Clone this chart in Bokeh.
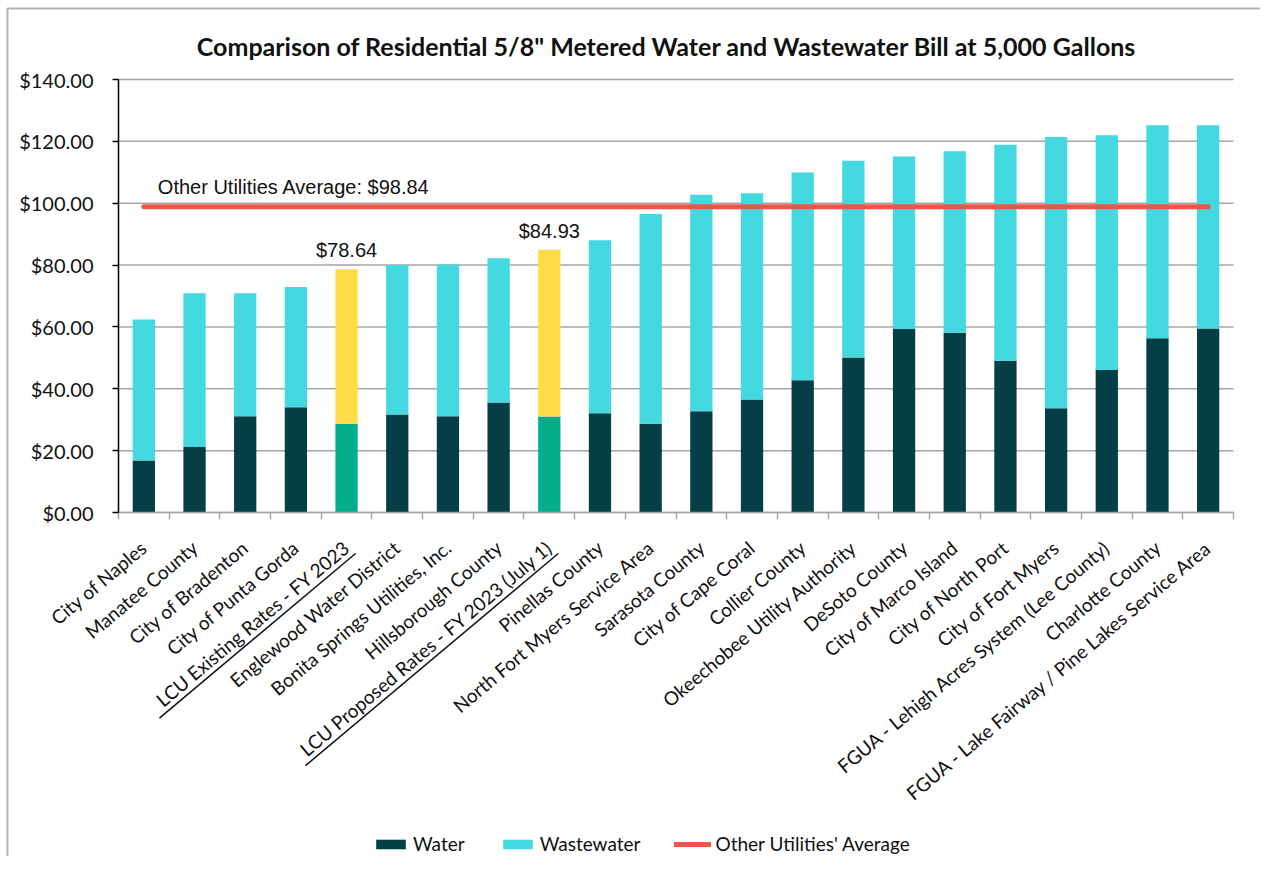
import math
from bokeh.plotting import figure
from bokeh.models import (ColumnDataSource, Range1d, FixedTicker, NumeralTickFormatter,
                          Legend, LegendItem, CDSView, BooleanFilter, BoxAnnotation, LinearAxis)
from bokeh.core.properties import value
from bokeh.embed import file_html
from bokeh.resources import INLINE

# ---- data ----
categories = [
    "City of Naples", "Manatee County", "City of Bradenton", "City of Punta Gorda",
    "LCU Existing Rates - FY 2023", "Englewood Water District", "Bonita Springs Utilities, Inc.",
    "Hillsborough County", "LCU Proposed Rates - FY 2023 (July 1)", "Pinellas County",
    "North Fort Myers Service Area", "Sarasota County", "City of Cape Coral", "Collier County",
    "Okeechobee Utility Authority", "DeSoto County", "City of Marco Island", "City of North Port",
    "City of Fort Myers", "FGUA - Lehigh Acres System (Lee County)", "Charlotte County",
    "FGUA - Lake Fairway / Pine Lakes Service Area",
]
water = [16.8, 21.2, 31.1, 34.0, 28.70, 31.7, 31.1, 35.6, 31.00, 32.1, 28.7,
         32.7, 36.5, 42.8, 50.1, 59.3, 58.1, 49.1, 33.7, 46.1, 56.3, 59.5]
wastewater = [45.6, 49.7, 39.8, 38.9, 49.94, 48.3, 49.1, 46.6, 53.93, 55.9, 67.8,
              70.0, 66.7, 67.1, 63.6, 55.8, 58.7, 69.8, 87.7, 75.9, 68.9, 65.7]
highlighted = ["LCU Existing Rates - FY 2023", "LCU Proposed Rates - FY 2023 (July 1)"]
other_average = 98.84
y_ticks = [0, 20, 40, 60, 80, 100, 120, 140]
title = "Comparison of Residential 5/8\" Metered Water and Wastewater Bill at 5,000 Gallons"

# ---- styles ----
C_WATER = "#033F45"
C_WW = "#44D8E1"
C_LCU_WATER = "#05AE8B"
C_LCU_WW = "#FFDC46"
C_AVG = "#EE5448"
C_GRID = "#A6A6A6"
C_TEXT = "#111111"
FONT = "Lato"
FONT2 = "Liberation Sans"
W, H = 1260, 856
ML, MR, MT, MB = 118, 27, 79, 344          # pixel margins around the bar area
LABEL_ANGLE = math.radians(40)
LABEL_STANDOFF = 25
UNDERLINE_LEN = {"LCU Existing Rates - FY 2023": 256, "LCU Proposed Rates - FY 2023 (July 1)": 330}
UNDERLINE_END = (9, 41)                     # px right of the tick / below the axis

n = len(categories)
xs = list(range(1, n + 1))
totals = [w + ww for w, ww in zip(water, wastewater)]
is_hl = [c in highlighted for c in categories]

px_per_cat = (W - ML - MR) / n
px_per_unit = (H - MT - MB) / (y_ticks[-1] - y_ticks[0])
x_lo, x_hi = 0.5, n + 0.5
x_range = Range1d(x_lo - ML / px_per_cat, x_hi + MR / px_per_cat)
y_range = Range1d(y_ticks[0] - MB / px_per_unit, y_ticks[-1] + MT / px_per_unit)

src = ColumnDataSource(dict(
    x=xs, water=water, total=totals,
    lbl=[f"${t:.2f}" for t in totals],
))
v_norm = CDSView(filter=BooleanFilter([not h for h in is_hl]))
v_hl = CDSView(filter=BooleanFilter(is_hl))

p = figure(width=W, height=H, output_backend="svg", toolbar_location=None, title=None,
           x_range=x_range, y_range=y_range, x_axis_location=None, y_axis_location=None,
           min_border=0)
p.min_border_left = p.min_border_right = p.min_border_top = p.min_border_bottom = 0
p.outline_line_color = None
p.background_fill_color = "white"
p.grid.visible = False

# outer chart border
p.add_layout(BoxAnnotation(left=7, right=W + 10, top=8, bottom=H + 10,
                           left_units="canvas", right_units="canvas",
                           top_units="canvas", bottom_units="canvas",
                           fill_alpha=0, line_color="#000000", line_width=2,
                           editable=False))

# horizontal gridlines (only across the bar area)
p.segment(x0=[x_lo] * len(y_ticks), x1=[x_hi] * len(y_ticks), y0=y_ticks, y1=y_ticks,
          line_color=C_GRID, line_width=1.5)

bw = 0.44
r_w = p.vbar(x="x", bottom=0, top="water", width=bw, fill_color=C_WATER, line_color=None,
             source=src, view=v_norm)
r_ww = p.vbar(x="x", bottom="water", top="total", width=bw, fill_color=C_WW, line_color=None,
              source=src, view=v_norm)
p.vbar(x="x", bottom=0, top="water", width=bw, fill_color=C_LCU_WATER, line_color=None,
       source=src, view=v_hl)
p.vbar(x="x", bottom="water", top="total", width=bw, fill_color=C_LCU_WW, line_color=None,
       source=src, view=v_hl)

r_avg = p.line(x=[xs[0], xs[-1]], y=[other_average, other_average], line_width=5,
               line_color=C_AVG, line_cap="round")

p.text(x=[xs[0]], y=[other_average], text=[f"Other Utilities Average: ${other_average:.2f}"],
       x_offset=14, y_offset=-9, text_baseline="bottom", text_align="left",
       text_font=value(FONT2), text_font_size="20px", text_color=C_TEXT)
p.text(x="x", y="total", text="lbl", source=src, view=v_hl, text_align="center",
       text_baseline="bottom", y_offset=-8, text_font=value(FONT2), text_font_size="20px",
       text_color=C_TEXT)

# title
p.text(x=[(x_lo + x_hi) / 2], y=[y_ticks[-1]], text=[title], x_offset=-9, y_offset=-34,
       text_align="center", text_baseline="middle", text_font=value(FONT),
       text_font_style="bold", text_font_size="25px", text_color=C_TEXT)

# y axis (drawn at the left edge of the bar area)
yax = LinearAxis(fixed_location=x_lo, bounds=(y_ticks[0], y_ticks[-1]),
                 ticker=FixedTicker(ticks=y_ticks),
                 formatter=NumeralTickFormatter(format="$0.00"))
yax.axis_line_color = "#000000"
yax.axis_line_width = 1.5
yax.major_tick_line_color = "#000000"
yax.major_tick_line_width = 1.5
yax.major_tick_out = 6
yax.major_tick_in = 0
yax.minor_tick_line_color = None
yax.major_label_text_font = FONT
yax.major_label_text_font_size = "20px"
yax.major_label_text_color = C_TEXT
yax.major_label_standoff = 19
p.add_layout(yax, "left")

# x axis (drawn at y = 0)
xax = LinearAxis(fixed_location=y_ticks[0], bounds=(x_lo, x_hi),
                 ticker=FixedTicker(ticks=xs, minor_ticks=[i + 0.5 for i in range(0, n + 1)]))
xax.major_label_overrides = {x: c for x, c in zip(xs, categories)}
xax.major_label_orientation = LABEL_ANGLE
xax.major_tick_line_color = None
xax.minor_tick_line_color = C_GRID
xax.minor_tick_line_width = 1.5
xax.minor_tick_out = 7
xax.minor_tick_in = 0
xax.axis_line_color = C_GRID
xax.axis_line_width = 1.5
xax.major_label_text_font = FONT
xax.major_label_text_font_size = "19px"
xax.major_label_text_color = C_TEXT
xax.major_label_standoff = LABEL_STANDOFF
p.add_layout(xax, "below")

# underline of the LCU tick labels (parallel to the rotated label)
ux0, uy0, ux1, uy1 = [], [], [], []
for xi, c in zip(xs, categories):
    if c in UNDERLINE_LEN:
        ex, ey = UNDERLINE_END
        L = UNDERLINE_LEN[c]
        sx, sy = ex - L * math.cos(LABEL_ANGLE), ey + L * math.sin(LABEL_ANGLE)
        ux0.append(xi + sx / px_per_cat); uy0.append(-sy / px_per_unit)
        ux1.append(xi + ex / px_per_cat); uy1.append(-ey / px_per_unit)
p.segment(x0=ux0, y0=uy0, x1=ux1, y1=uy1, line_color=C_TEXT, line_width=1.5)

legend = Legend(items=[
    LegendItem(label="Water", renderers=[r_w]),
    LegendItem(label="Wastewater", renderers=[r_ww]),
    LegendItem(label="Other Utilities' Average", renderers=[r_avg]),
], orientation="horizontal", location=(372, 1), border_line_color=None,
    background_fill_alpha=0, glyph_width=37, glyph_height=12, label_standoff=4,
    spacing=34, label_text_font=FONT, label_text_font_size="19px",
    label_text_color=C_TEXT, padding=3, margin=0)
p.add_layout(legend, "center")

open("out.html", "w").write(file_html(p, INLINE))
